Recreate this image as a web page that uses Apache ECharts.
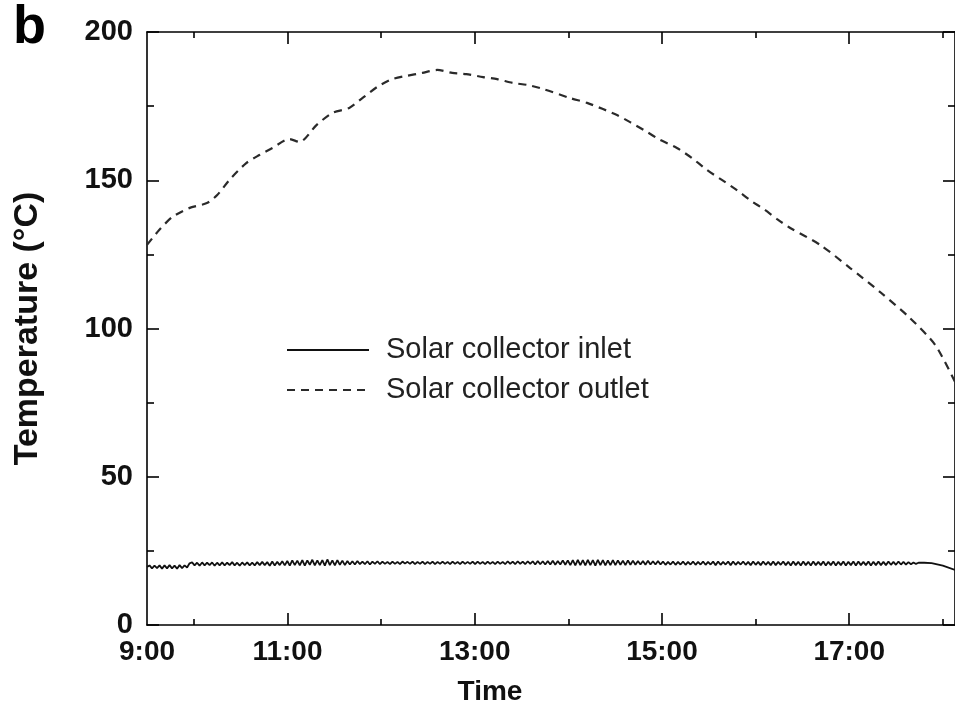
<!DOCTYPE html>
<html>
<head>
<meta charset="utf-8">
<script src="https://cdn.jsdelivr.net/npm/echarts@6/dist/echarts.min.js"></script>
<style>
html,body{margin:0;padding:0;background:#fff;}
#chart{width:955px;height:718px;}
</style>
</head>
<body>
<div id="chart"></div>
<script>
// ---------- data ----------
var panelLabel = 'b';
var seriesNames = ['Solar collector inlet', 'Solar collector outlet'];
var xTitle = 'Time';
var yTitle = 'Temperature (\u00B0C)';

// x axis in hours of the day
var xMin = 9.5, xMax = 18.13;
var xLabelValues = [9.5, 11, 13, 15, 17];
var xLabelTexts = ['9:00', '11:00', '13:00', '15:00', '17:00'];
var xMajorTicks = [11, 13, 15, 17];
var xMinorTicks = [10, 12, 14, 16, 18];

// Solar collector outlet (dashed)
var outletTime = [9.50, 9.63, 9.77, 9.95, 10.14, 10.25, 10.38, 10.56, 10.70, 10.84, 11.02, 11.13, 11.31, 11.48, 11.66, 11.80, 11.96, 12.12, 12.27, 12.44, 12.60, 12.76, 12.91, 13.09, 13.24, 13.41, 13.57, 13.73, 14.02, 14.20, 14.37, 14.52, 14.66, 14.84, 14.98, 15.16, 15.32, 15.48, 15.64, 15.80, 15.94, 16.10, 16.23, 16.37, 16.69, 17.01, 17.33, 17.65, 17.92, 18.13];
var outletTemp = [128.2, 133.2, 137.6, 140.6, 142.3, 145.0, 150.1, 155.8, 158.5, 160.9, 163.9, 162.9, 168.6, 172.7, 174.4, 177.7, 181.5, 184.1, 185.2, 186.2, 187.2, 186.2, 185.8, 184.8, 184.1, 182.8, 182.1, 180.8, 177.7, 176.1, 174.0, 172.0, 169.6, 166.3, 163.6, 160.9, 157.5, 153.5, 150.1, 146.7, 143.3, 140.0, 136.9, 133.9, 128.2, 120.4, 112.3, 103.5, 94.4, 82.0];

// Solar collector inlet (solid) - logged samples, evenly spaced from 9.50 h to 17.74 h
var inletStart = 9.50, inletEnd = 17.74;
var inletTemp = [
 19.6, 20.1, 19.1, 20.0, 19.2, 20.1, 19.0, 20.1, 19.1, 20.2, 19.1, 20.0, 19.0, 20.2, 19.2, 20.1, 19.4,
 20.8, 21.1, 20.1, 21.0, 20.0, 21.1, 20.1, 21.0, 20.2, 21.1, 20.0, 21.0, 20.1, 21.1, 20.1, 21.0, 20.2, 21.2, 20.1, 21.0, 20.0, 21.1, 20.2, 21.1, 20.1, 21.0, 20.1, 21.2, 20.2, 21.3, 20.2, 21.2, 20.0, 21.4, 20.1, 21.3, 20.2, 21.5, 20.1,
 21.6, 20.0, 21.8, 20.2, 21.7, 20.1, 21.9, 20.0, 21.8, 20.3, 22.0, 20.1, 21.8, 20.2, 21.9, 20.0, 22.1, 20.2, 21.8, 20.1, 21.9, 20.3, 21.7, 20.2, 21.6, 20.4, 21.5, 20.4, 21.6, 20.5, 21.4, 20.5, 21.5, 20.4, 21.4, 20.6, 21.5,
 20.5, 21.4, 20.6, 21.3, 20.5, 21.4, 20.6, 21.3, 20.5, 21.4, 20.7, 21.3, 20.6, 21.4, 20.5, 21.3, 20.6, 21.4, 20.5, 21.3, 20.6, 21.4, 20.5, 21.3, 20.6, 21.4, 20.6, 21.3, 20.5, 21.4, 20.6, 21.3, 20.5, 21.4, 20.6, 21.3, 20.6, 21.4, 20.5, 21.4, 20.6, 21.3, 20.5, 21.4, 20.6, 21.3, 20.5, 21.4, 20.6, 21.3, 20.5, 21.5, 20.6, 21.4, 20.5, 21.5, 20.6, 21.4, 20.5, 21.5, 20.6, 21.5, 20.4, 21.6, 20.5, 21.5, 20.4, 21.6, 20.4, 21.7, 20.3, 21.6, 20.4, 21.8, 20.3,
 21.8, 20.2, 21.9, 20.1, 22.0, 20.2, 21.9, 20.1, 22.0, 20.2, 21.9, 20.0, 22.0, 20.2, 21.9, 20.1, 21.8, 20.2, 21.9, 20.2, 21.8, 20.3, 21.7, 20.2, 21.8, 20.3, 21.7, 20.3, 21.6, 20.4, 21.6, 20.3, 21.7, 20.4, 21.5, 20.4, 21.6,
 20.4, 21.4, 20.3, 21.3, 20.4, 21.4, 20.3, 21.3, 20.4, 21.4, 20.3, 21.3, 20.4, 21.4, 20.3, 21.3, 20.4, 21.4, 20.3, 21.3, 20.4, 21.4, 20.2, 21.4, 20.3, 21.3, 20.4, 21.4, 20.2, 21.4, 20.3, 21.3, 20.4, 21.4, 20.3, 21.3, 20.2, 21.4, 20.3, 21.3, 20.2, 21.4, 20.3, 21.3, 20.2, 21.4, 20.2, 21.3, 20.3, 21.4, 20.2, 21.3, 20.1, 21.4, 20.2, 21.3, 20.1, 21.4, 20.2, 21.3, 20.1, 21.4, 20.2, 21.3, 20.2, 21.4, 20.1, 21.3, 20.2, 21.4, 20.1, 21.3, 20.2, 21.4, 20.1, 21.3, 20.2, 21.4, 20.1, 21.4, 20.2, 21.3, 20.2, 21.4, 20.1, 21.3, 20.2, 21.4, 20.2, 21.3, 20.2, 21.4, 20.3, 21.3, 20.3, 21.4, 20.4, 21.3, 20.4, 21.2, 20.5, 21.1, 20.6, 21.0
];
var inletTailTime = [17.80, 17.88, 18.00, 18.13];
var inletTailTemp = [21.0, 20.9, 20.0, 18.6];

// ---------- build ----------
var FONT = '"Liberation Sans", Arial, Helvetica, sans-serif';
var inletData = [];
var step = (inletEnd - inletStart) / (inletTemp.length - 1);
for (var i = 0; i < inletTemp.length; i++) inletData.push([inletStart + i * step, inletTemp[i]]);
for (var j = 0; j < inletTailTime.length; j++) inletData.push([inletTailTime[j], inletTailTemp[j]]);
var outletData = outletTime.map(function (t, k) { return [t, outletTemp[k]]; });

var axisLineStyle = { color: '#000', width: 1.6 };
function xAxisDef(pos, ticks, len, showLine, labels) {
  return {
    type: 'value', position: pos, min: xMin, max: xMax,
    axisLine: { show: showLine, onZero: false, lineStyle: axisLineStyle },
    axisTick: { show: true, inside: true, length: len, customValues: ticks, lineStyle: { color: '#000', width: 1.6 } },
    axisLabel: labels ? {
      show: true, customValues: xLabelValues, margin: 13,
      formatter: function (v) { var idx = xLabelValues.indexOf(v); return idx >= 0 ? xLabelTexts[idx] : ''; },
      fontFamily: FONT, fontSize: 28, fontWeight: 'bold', color: '#111'
    } : { show: false },
    splitLine: { show: false }
  };
}

var xAxes = [
  xAxisDef('bottom', xMajorTicks, 12, true, true),
  xAxisDef('bottom', xMinorTicks, 6, false, false),
  xAxisDef('top', xMajorTicks, 12, true, false),
  xAxisDef('top', xMinorTicks, 6, false, false)
];
xAxes[0].name = xTitle;
xAxes[0].nameLocation = 'middle';
xAxes[0].nameGap = 53;
xAxes[0].nameTextStyle = { fontFamily: FONT, fontSize: 28, fontWeight: 'bold', color: '#111', padding: [0, 122, 0, 0] };

function yAxisDef(pos, labels) {
  return {
    type: 'value', position: pos, min: 0, max: 200, interval: 50,
    axisLine: { show: true, onZero: false, lineStyle: axisLineStyle },
    axisTick: { show: true, inside: true, length: 12, lineStyle: { color: '#000', width: 1.6 } },
    minorTick: { show: true, splitNumber: 2, length: 7, lineStyle: { color: '#000', width: 1.6 } },
    axisLabel: labels ? { show: true, margin: 14, fontFamily: FONT, fontSize: 29, fontWeight: 'bold', color: '#111' } : { show: false },
    splitLine: { show: false }, minorSplitLine: { show: false }
  };
}
var yAxes = [yAxisDef('left', true), yAxisDef('right', false)];
yAxes[0].name = yTitle;
yAxes[0].nameLocation = 'middle';
yAxes[0].nameGap = 102;
yAxes[0].nameTextStyle = { fontFamily: FONT, fontSize: 34, fontWeight: 'bold', color: '#111' };

var chart = echarts.init(document.getElementById('chart'), null, { renderer: 'canvas' });
chart.setOption({
  animation: false,
  backgroundColor: '#fff',
  title: { text: panelLabel, left: 8, top: -4, textStyle: { fontFamily: FONT, fontSize: 54, fontWeight: 'bold', color: '#000' } },
  grid: { left: 147, right: 0, top: 32, bottom: 93, containLabel: false },
  legend: {
    data: seriesNames, orient: 'vertical', left: 286, top: 335, padding: 0,
    itemWidth: 82, itemHeight: 14, itemGap: 10,
    itemStyle: { opacity: 0 },
    textStyle: { fontFamily: FONT, fontSize: 29, color: '#222', lineHeight: 30, padding: [0, 0, 0, 12] },
    selectedMode: false
  },
  xAxis: xAxes,
  yAxis: yAxes,
  series: [
    { name: seriesNames[0], type: 'line', xAxisIndex: 0, yAxisIndex: 0, data: inletData, symbol: 'none',
      lineStyle: { color: '#111', width: 1.8, type: 'solid' }, itemStyle: { color: '#111' } },
    { name: seriesNames[1], type: 'line', xAxisIndex: 0, yAxisIndex: 0, data: outletData, symbol: 'none', smooth: 0.25,
      lineStyle: { color: '#2a2a2a', width: 2.2, type: [8, 6] }, itemStyle: { color: '#2a2a2a' } }
  ]
});
</script>
</body>
</html>
